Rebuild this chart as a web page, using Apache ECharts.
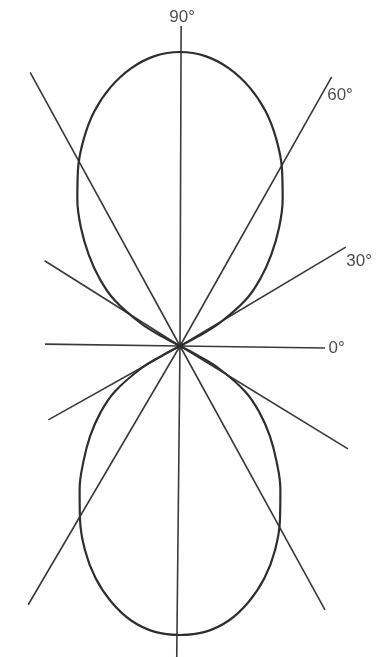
<!DOCTYPE html>
<html>
<head>
<meta charset="utf-8">
<script src="https://cdn.jsdelivr.net/npm/echarts@6/dist/echarts.min.js"></script>
<style>
  html, body { margin: 0; padding: 0; background: #fff; }
  #chart { width: 378px; height: 657px; }
</style>
</head>
<body>
<div id="chart"></div>
<script>
// direction lines through the centre: angle and length of each half (deg, px)
var lineAnglesFwd = [359.2, 30.8, 60.6, 89.8, 118.7, 147.8];
var lineLenFwd = [145, 193, 309, 320, 312, 160];
var lineAnglesBack = [179.2, 209.3, 239.6, 269.4, 298.8, 328.5];
var lineLenBack = [135, 151, 300, 330, 301, 197];

// angle labels at the ends of the first four lines
var labelTexts = ["0°", "30°", "60°", "90°"];

// lobe profile for one quarter (angle in deg, radius), upper and lower lobes
var lobeAngles = [26, 28, 30, 35, 40, 45, 50, 55, 60, 65, 70, 75, 80, 85, 90];
var upperRadii = [0, 20, 45, 80, 105, 129, 154, 179, 204, 228, 250, 268, 282, 291, 294];
var lowerRadii = [0, 20, 45, 80, 104, 127, 150, 175, 200, 225, 247, 265, 279, 287, 289];

var ink = "#333";

// full lobe from a quarter profile, mirrored around the vertical
function buildLobe(radii, lower) {
  var pts = [];
  for (var i = 0; i < lobeAngles.length; i++) {
    pts.push([radii[i], lower ? 360 - lobeAngles[i] : lobeAngles[i]]);
  }
  for (var j = lobeAngles.length - 2; j >= 0; j--) {
    pts.push([radii[j], lower ? 180 + lobeAngles[j] : 180 - lobeAngles[j]]);
  }
  return pts;
}

var series = [];

lineAnglesFwd.forEach(function (a, i) {
  series.push({
    type: "line",
    coordinateSystem: "polar",
    symbol: "none",
    silent: true,
    lineStyle: { color: "#3a3a3a", width: 1.6 },
    data: [[lineLenFwd[i], a], [0, a], [lineLenBack[i], lineAnglesBack[i]]]
  });
});

[buildLobe(upperRadii, false), buildLobe(lowerRadii, true)].forEach(function (pts) {
  series.push({
    type: "line",
    coordinateSystem: "polar",
    symbol: "none",
    smooth: 0.4,
    silent: true,
    lineStyle: { color: "#2e2e2e", width: 2.2 },
    data: pts
  });
});

// label placement next to the line ends
var labelPos = ["right", "right", "right", "top"];
var labelOffset = [[0, 0], [0, 14], [-5, 19], [1, 0]];

series.push({
  type: "scatter",
  coordinateSystem: "polar",
  symbolSize: 1,
  silent: true,
  itemStyle: { color: "rgba(0,0,0,0)" },
  data: labelTexts.map(function (t, i) {
    return {
      value: [lineLenFwd[i], lineAnglesFwd[i]],
      label: {
        show: true,
        formatter: t,
        position: labelPos[i],
        distance: i === 0 ? 3 : 0,
        offset: labelOffset[i],
        color: "#222",
        fontSize: 17,
        fontFamily: "Liberation Sans"
      }
    };
  })
});

// dark knot where all lines meet
series.push({
  type: "scatter",
  coordinateSystem: "polar",
  symbolSize: 7,
  silent: true,
  itemStyle: { color: "#333" },
  data: [[0, 0]]
});

var chart = echarts.init(document.getElementById("chart"));
chart.setOption({
  backgroundColor: "#fff",
  animation: false,
  polar: { center: [180, 346], radius: 330 },
  angleAxis: {
    type: "value",
    min: 0,
    max: 360,
    startAngle: 0,
    clockwise: false,
    axisLine: { show: false },
    axisTick: { show: false },
    axisLabel: { show: false },
    splitLine: { show: false }
  },
  radiusAxis: {
    type: "value",
    min: 0,
    max: 330,
    axisLine: { show: false },
    axisTick: { show: false },
    axisLabel: { show: false },
    splitLine: { show: false }
  },
  series: series
});
</script>
</body>
</html>
